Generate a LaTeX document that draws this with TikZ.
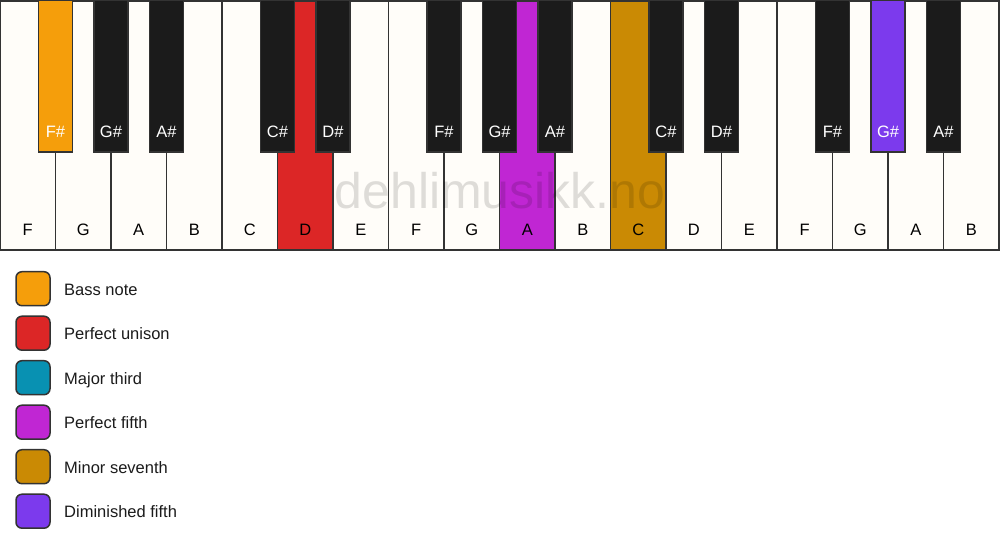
\documentclass[tikz,border=0pt]{standalone}
\usepackage{fontspec}
\setmainfont{Liberation Sans}
\usetikzlibrary{positioning}
\definecolor{bassnote}{HTML}{F59E0B}
\definecolor{unison}{HTML}{DC2626}
\definecolor{majthird}{HTML}{0891B2}
\definecolor{perffifth}{HTML}{C026D3}
\definecolor{minseventh}{HTML}{CA8A04}
\definecolor{dimfifth}{HTML}{7C3AED}
\definecolor{ivory}{HTML}{FFFDF9}
\definecolor{ebony}{HTML}{1B1B1B}
\definecolor{keyrim}{HTML}{333333}
\tikzset{
  whitekey/.style={draw=keyrim,fill=ivory,line width=1.5pt,inner sep=0pt,outer sep=0pt,
    minimum width=55.5pt,minimum height=249pt,anchor=north west},
  blackkey/.style={draw=keyrim,fill=ebony,line width=1.5pt,inner sep=0pt,outer sep=0pt,
    minimum width=34pt,minimum height=152pt,anchor=north},
  keylabel/.style={font=\fontsize{16.5}{19}\selectfont,inner sep=0pt,anchor=base},
  legendbox/.style={draw=keyrim,line width=1.5pt,rounded corners=6pt,minimum size=34pt,
    inner sep=0pt,outer sep=0pt,anchor=west},
  legendtext/.style={font=\fontsize{16.5}{19}\selectfont,text=ebony,inner sep=0pt,anchor=base west},
}
\begin{document}
\begin{tikzpicture}[x=1pt,y=-1pt]
\fill[white] (0,0) rectangle (1000,550);
\useasboundingbox (0,0) rectangle (1000,550);
% white keys
\foreach \n/\c [count=\i from 0] in {F/ivory,G/ivory,A/ivory,B/ivory,C/ivory,D/unison,E/ivory,
  F/ivory,G/ivory,A/perffifth,B/ivory,C/minseventh,D/ivory,E/ivory,F/ivory,G/ivory,A/ivory,B/ivory}
{
  \node[whitekey,fill=\c] (w\i) at (\i*55.5,0.75) {};
  \node[keylabel] (wl\i) at ([yshift=14pt]w\i.south) {\n};
}
% watermark
\node[font=\fontsize{50}{60}\selectfont,text=black,text opacity=0.13,inner sep=0pt,anchor=base]
  (mark) at (500,208) {dehlimusikk.no};
% black keys
\foreach \p/\n/\c in {1/F\#/bassnote,2/G\#/ebony,3/A\#/ebony,5/C\#/ebony,6/D\#/ebony,
  8/F\#/ebony,9/G\#/ebony,10/A\#/ebony,12/C\#/ebony,13/D\#/ebony,
  15/F\#/ebony,16/G\#/dimfifth,17/A\#/ebony}
{
  \node[blackkey,fill=\c] (b\p) at (\p*55.5,0) {};
  \node[keylabel,text=white] (bl\p) at ([yshift=14.5pt]b\p.south) {\n};
}
% legend
\foreach \c/\t [count=\k from 0] in {bassnote/Bass note,unison/Perfect unison,majthird/Major third,
  perffifth/Perfect fifth,minseventh/Minor seventh,dimfifth/Diminished fifth}
{
  \node[legendbox,fill=\c] (sq\k) at (16,288.7+\k*44.5) {};
  \node[legendtext] (lt\k) at ([xshift=14pt,yshift=-6.5pt]sq\k.east) {\t};
}
\end{tikzpicture}
\end{document}
